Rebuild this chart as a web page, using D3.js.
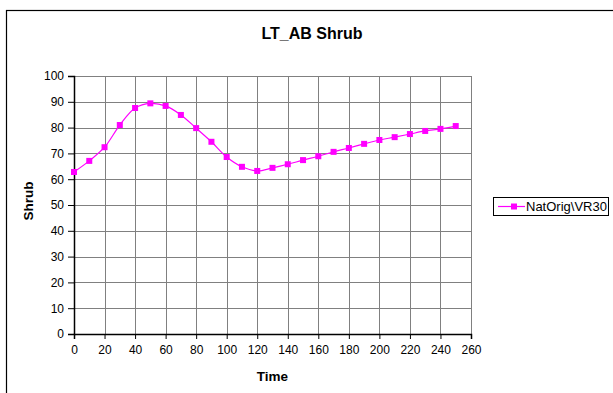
<!DOCTYPE html>
<html>
<head>
<meta charset="utf-8">
<script src="https://cdn.jsdelivr.net/npm/d3@7"></script>
<style>
  body { margin: 0; background: #fff; }
  text { font-family: "Liberation Sans", Arial, sans-serif; fill: #000; }
</style>
</head>
<body>
<div id="canvas"></div>
<script>
"use strict"

// data
let times = [0, 10, 20, 30, 40, 50, 60, 70, 80, 90, 100, 110, 120, 130, 140, 150, 160,
             170, 180, 190, 200, 210, 220, 230, 240, 250];
let shrub = [62.8, 67.1, 72.4, 81.0, 87.6, 89.4, 88.4, 84.9, 79.8, 74.5, 68.6, 64.8, 63.2,
             64.4, 65.8, 67.4, 68.9, 70.6, 72.1, 73.7, 75.2, 76.3, 77.5, 78.7, 79.5, 80.6];
let xTicks = [0, 20, 40, 60, 80, 100, 120, 140, 160, 180, 200, 220, 240, 260];
let yTicks = [0, 10, 20, 30, 40, 50, 60, 70, 80, 90, 100];
let seriesName = "NatOrig\\VR30";

let svgWidth = 613;
let svgHeight = 393;
let plot = { left: 74, right: 471, top: 76, bottom: 334 };
let magenta = "#ff00ff";

let svg = d3.select("#canvas")
    .append("svg")
    .attr("width", svgWidth)
    .attr("height", svgHeight);

// chart area border (runs off the right and bottom edges)
svg.append("rect")
    .attr("x", 6.5)
    .attr("y", 10.5)
    .attr("width", 700)
    .attr("height", 500)
    .attr("fill", "white")
    .attr("stroke", "black")
    .attr("stroke-width", 1.2);

let xScale = d3.scaleLinear().domain([0, 260]).range([plot.left, plot.right]);
let yScale = d3.scaleLinear().domain([0, 100]).range([plot.bottom, plot.top]);

// grid lines
svg.append("g")
    .selectAll("line")
    .data(yTicks.slice(1))
    .join("line")
    .attr("x1", plot.left)
    .attr("x2", plot.right)
    .attr("y1", function(d) { return Math.round(yScale(d)) + 0.5; })
    .attr("y2", function(d) { return Math.round(yScale(d)) + 0.5; })
    .attr("stroke", "#808080");

svg.append("g")
    .selectAll("line")
    .data(xTicks.slice(1))
    .join("line")
    .attr("x1", function(d) { return Math.round(xScale(d)) + 0.5; })
    .attr("x2", function(d) { return Math.round(xScale(d)) + 0.5; })
    .attr("y1", plot.top)
    .attr("y2", plot.bottom)
    .attr("stroke", "#808080");

// axes
let xAxis = d3.axisBottom(xScale).tickValues(xTicks).tickSize(5).tickPadding(6);
let yAxis = d3.axisLeft(yScale).tickValues(yTicks).tickSize(6).tickPadding(4);

let gx = svg.append("g")
    .attr("transform", "translate(0," + plot.bottom + ")")
    .call(xAxis);
let gy = svg.append("g")
    .attr("transform", "translate(" + plot.left + ",0)")
    .call(yAxis);

[gx, gy].forEach(function(g) {
    g.selectAll("path").attr("stroke", "#000").attr("stroke-width", 1.5);
    g.selectAll("line").attr("stroke", "#000");
    g.selectAll("text")
        .style("font-size", "12px")
        .style("font-family", "'Liberation Sans', Arial, sans-serif")
        .attr("fill", "#000");
});

// series line (smoothed like the original)
let line = d3.line()
    .x(function(d, i) { return xScale(times[i]); })
    .y(function(d) { return yScale(d); })
    .curve(d3.curveCatmullRom.alpha(0.5));

svg.append("path")
    .datum(shrub)
    .attr("d", line)
    .attr("fill", "none")
    .attr("stroke", magenta)
    .attr("stroke-width", 1.2);

svg.selectAll("rect.marker")
    .data(shrub)
    .join("rect")
    .classed("marker", true)
    .attr("x", function(d, i) { return xScale(times[i]) - 3; })
    .attr("y", function(d) { return yScale(d) - 3; })
    .attr("width", 6)
    .attr("height", 6)
    .attr("fill", magenta);

// titles
svg.append("text")
    .attr("x", 312)
    .attr("y", 39)
    .attr("text-anchor", "middle")
    .style("font-size", "16px")
    .style("font-weight", "bold")
    .text("LT_AB Shrub");

svg.append("text")
    .attr("x", (plot.left + plot.right) / 2)
    .attr("y", 381)
    .attr("text-anchor", "middle")
    .style("font-size", "13.5px")
    .style("font-weight", "bold")
    .text("Time");

svg.append("text")
    .attr("transform", "translate(33," + 201 + ") rotate(-90)")
    .attr("text-anchor", "middle")
    .style("font-size", "13.5px")
    .style("font-weight", "bold")
    .text("Shrub");

// legend
svg.append("rect")
    .attr("x", 493.5)
    .attr("y", 197.5)
    .attr("width", 115)
    .attr("height", 18)
    .attr("fill", "white")
    .attr("stroke", "black")
    .attr("stroke-width", 1);

svg.append("line")
    .attr("x1", 498)
    .attr("x2", 525)
    .attr("y1", 206.5)
    .attr("y2", 206.5)
    .attr("stroke", magenta)
    .attr("stroke-width", 1.2);

svg.append("rect")
    .attr("x", 511)
    .attr("y", 203.5)
    .attr("width", 6)
    .attr("height", 6)
    .attr("fill", magenta);

svg.append("text")
    .attr("x", 526)
    .attr("y", 211)
    .style("font-size", "13px")
    .text(seriesName);
</script>
</body>
</html>
